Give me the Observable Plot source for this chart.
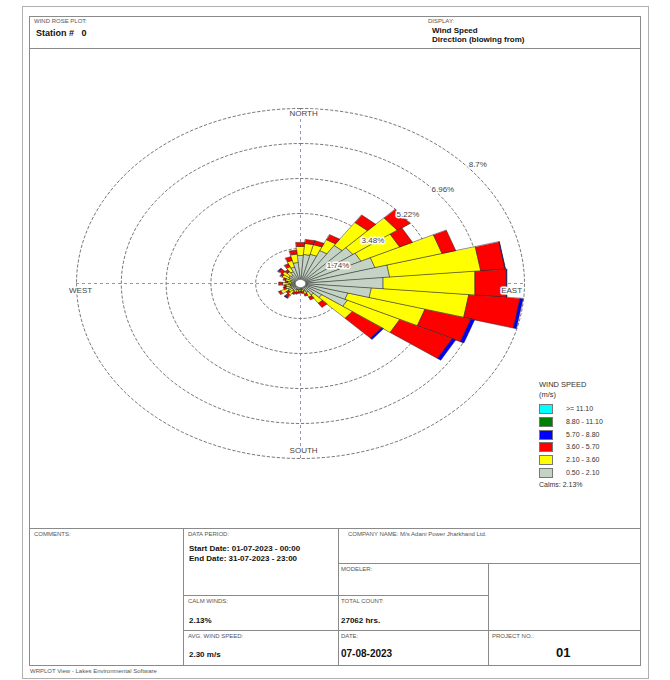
<!DOCTYPE html>
<html><head><meta charset="utf-8">
<script src="https://cdn.jsdelivr.net/npm/d3@7"></script>
<script src="https://cdn.jsdelivr.net/npm/@observablehq/plot@0.6"></script>
<style>
body{margin:0;background:#fff;font-family:"Liberation Sans",Arial,sans-serif;color:#111;}
#page{position:relative;width:670px;height:680px;overflow:hidden;}
.a{position:absolute;white-space:nowrap;}
.box{position:absolute;border:1px solid #8a8a8a;box-sizing:border-box;}
.hl{position:absolute;height:0;border-top:1px solid #8a8a8a;}
.vl{position:absolute;width:0;border-left:1px solid #8a8a8a;}
.cap{font-size:6px;color:#555;}
.val{font-size:8px;font-weight:bold;color:#111;}
.lg{font-size:7px;color:#333;}
.sw{position:absolute;width:14px;height:10px;border:1px solid #777;box-sizing:border-box;}
#rose{position:absolute;left:29px;top:48px;}
</style></head><body><div id="page"></div>
<script>
// ---------- data ----------
const directions = [0,10,20,30,40,50,60,70,80,90,100,110,120,130,140,150,160,170,180,190,200,210,220,230,240,250,260,270,280,290,300,310,320,330,340,350];
const speedBands = ["0.50 - 2.10","2.10 - 3.60","3.60 - 5.70","5.70 - 8.80","8.80 - 11.10",">= 11.10"];
const bandColors = ["#c4d3c4","#ffff00","#ff0000","#0000ff","#008000","#00ffff"];
// frequency (%) per direction, per speed class
const freq050_210 = [1.40,1.45,1.50,1.80,2.30,2.50,2.60,3.00,3.48,3.22,2.76,1.90,2.00,1.00,0.70,0.50,0.40,0.30,0.28,0.30,0.32,0.33,0.45,0.40,0.55,0.40,0.40,0.45,0.35,0.40,0.50,0.55,0.50,0.65,0.85,1.05];
const freq210_360 = [0.45,0.55,0.50,0.60,1.40,2.10,1.66,2.70,3.55,3.58,3.80,3.10,2.25,1.45,0.50,0.25,0.15,0.12,0.10,0.12,0.13,0.15,0.25,0.18,0.30,0.20,0.17,0.25,0.15,0.20,0.28,0.30,0.22,0.28,0.34,0.42];
const freq360_570 = [0.20,0.20,0.20,0.28,0.45,0.60,0.55,0.55,0.95,1.23,2.00,1.85,2.25,1.40,0.25,0.15,0.10,0.08,0.07,0.08,0.10,0.12,0.15,0.12,0.10,0.10,0.08,0.15,0.10,0.10,0.10,0.18,0.13,0.17,0.20,0.20];
const freq570_880 = [0,0,0,0,0,0,0,0,0.02,0.02,0.12,0.15,0.15,0.08,0,0,0,0,0,0,0,0,0.05,0,0,0,0,0,0,0,0,0.05,0,0,0,0];
const freq880_1110 = [0,0,0,0,0,0,0,0,0,0,0,0,0,0,0,0,0,0,0,0,0,0,0,0,0,0,0,0,0,0,0,0,0,0,0,0];
const freq1110 = [0,0,0,0,0,0,0,0,0,0,0,0,0,0,0,0,0,0,0,0,0,0,0,0,0,0,0,0,0,0,0,0,0,0,0,0];
const ringValues = [1.74,3.48,5.22,6.96,8.7];
const cardinalLabels = ["NORTH","EAST","SOUTH","WEST"];
const calms = "2.13%";

// ---------- geometry constants (layout) ----------
const W = 610, H = 480, cx = 271, cy = 235;
const kx = 224 / 8.7, ky = 175 / 8.7;   // px per percent
const outer = ringValues[ringValues.length - 1];
const rad = d => d * Math.PI / 180;

const bandValues = [freq050_210, freq210_360, freq360_570, freq570_880, freq880_1110, freq1110];
const petalPts = [];
directions.forEach((dir, i) => {
  let r0 = 0;
  bandValues.forEach((vals, b) => {
    const v = vals[i];
    if (!(v > 0)) return;
    const r1 = r0 + v, id = dir + "_" + b;
    const a0 = rad(dir - 5), a1 = rad(dir + 5);
    for (const [r, a] of [[r0, a0], [r0, a1], [r1, a1], [r1, a0]])
      petalPts.push({id, band: speedBands[b], x: r * Math.sin(a), y: r * Math.cos(a)});
    r0 = r1;
  });
});
const ringPts = [];
ringValues.forEach(rv => { for (let t = 0; t <= 360; t += 2) ringPts.push({ring: rv, x: rv * Math.sin(rad(t)), y: rv * Math.cos(rad(t))}); });
const holeR = 0.2;
const holePts = d3.range(0, 360, 15).map(t => ({x: holeR * Math.sin(rad(t)), y: holeR * Math.cos(rad(t))}));

const cardPos = {
  NORTH: {x: 0.12, y: outer - 0.25, anchor: "start"},
  EAST: {x: outer - 0.5, y: -0.35, anchor: "middle"},
  SOUTH: {x: 0.12, y: -outer + 0.4, anchor: "start"},
  WEST: {x: -outer + 0.16, y: -0.35, anchor: "start"}
};

const font = "Liberation Sans, Arial, sans-serif";
const chart = Plot.plot({
  width: W, height: H, margin: 0,
  style: {fontFamily: font, background: "transparent"},
  x: {domain: [-cx / kx, (W - cx) / kx], axis: null},
  y: {domain: [-(H - cy) / ky, cy / ky], axis: null},
  color: {domain: speedBands, range: bandColors},
  marks: [
    Plot.line(ringPts, {x: "x", y: "y", z: "ring", stroke: "#555", strokeWidth: 0.8, strokeDasharray: "2.5,2.5"}),
    Plot.ruleX([0], {y1: -outer, y2: outer, stroke: "#7777aa", strokeWidth: 0.8, strokeDasharray: "3,3"}),
    Plot.ruleY([0], {x1: -outer, x2: outer, stroke: "#7777aa", strokeWidth: 0.8, strokeDasharray: "3,3"}),
    Plot.line(petalPts, {x: "x", y: "y", z: "id", fill: "band", stroke: "#222", strokeWidth: 0.5, curve: "linear-closed"}),
    Plot.line(holePts, {x: "x", y: "y", fill: "white", stroke: "#666", strokeWidth: 0.6, curve: "linear-closed"}),
    Plot.text(ringValues, {x: d => 0.78 * d + 0.1, y: d => 0.721 * d - 0.355, text: d => d + "%", fontSize: 8, fill: "#444", stroke: "white", strokeWidth: 3, paintOrder: "stroke"}),
    Plot.text(cardinalLabels, {x: d => cardPos[d].x, y: d => cardPos[d].y, text: d => d, textAnchor: d => cardPos[d].anchor, fontSize: 8, fill: "#444", stroke: "white", strokeWidth: 3, paintOrder: "stroke"})
  ]
});
chart.id = "rose";

// ---------- page ----------
const page = document.getElementById("page");
function el(cls, left, top, html, extra) {
  const d = document.createElement("div");
  d.className = cls; d.style.left = left + "px"; d.style.top = top + "px";
  if (html != null) d.innerHTML = html;
  if (extra) Object.assign(d.style, extra);
  page.appendChild(d); return d;
}
el("box", 22, 6, null, {width: "627px", height: "673px", borderColor: "#b0b0b0"});
el("box", 29, 16, null, {width: "612px", height: "33px"});
el("box", 29, 48, null, {width: "612px", height: "481px"});
el("box", 29, 528, null, {width: "612px", height: "138px"});
page.appendChild(chart);
// table lines
el("vl", 183, 528, null, {height: "137px"});
el("vl", 338, 528, null, {height: "137px"});
el("vl", 488, 563, null, {height: "102px"});
el("hl", 338, 563, null, {width: "302px"});
el("hl", 183, 595, null, {width: "305px"});
el("hl", 183, 630, null, {width: "457px"});
// header text
el("a cap", 34, 18, "WIND ROSE PLOT:");
el("a", 36, 28, "Station #&nbsp;&nbsp;&nbsp;0", {fontSize: "9px", fontWeight: "bold"});
el("a cap", 428, 18, "DISPLAY:");
el("a val", 432, 26, "Wind Speed");
el("a val", 432, 35, "Direction (blowing from)");
// legend
el("a lg", 539, 380, "WIND SPEED", {fontSize: "7.5px"});
el("a lg", 539, 390, "(m/s)", {fontSize: "7.5px"});
speedBands.slice().reverse().forEach((b, i) => {
  const c = bandColors[speedBands.indexOf(b)];
  el("sw", 539, 404 + 12.8 * i, null, {background: c});
  el("a lg", 566, 405 + 12.8 * i, b);
});
el("a lg", 539, 481, "Calms: " + calms);
// table text
el("a cap", 34, 531, "COMMENTS:");
el("a cap", 188, 531, "DATA PERIOD:");
el("a cap", 348, 531, "COMPANY NAME: M/s Adani Power Jharkhand Ltd.");
el("a val", 189, 544, "Start Date: 01-07-2023 - 00:00");
el("a val", 189, 554, "End Date: 31-07-2023 - 23:00");
el("a cap", 341, 566, "MODELER:");
el("a cap", 188, 598, "CALM WINDS:");
el("a val", 189, 616, calms);
el("a cap", 341, 598, "TOTAL COUNT:");
el("a val", 341, 616, "27062 hrs.");
el("a cap", 188, 633, "AVG. WIND SPEED:");
el("a val", 189, 650, "2.30 m/s");
el("a cap", 341, 633, "DATE:");
el("a", 341, 648, "07-08-2023", {fontSize: "10px", fontWeight: "bold"});
el("a cap", 492, 633, "PROJECT NO.:");
el("a", 556, 645, "01", {fontSize: "13px", fontWeight: "bold"});
el("a cap", 30, 668, "WRPLOT View - Lakes Environmental Software");
</script></body></html>
